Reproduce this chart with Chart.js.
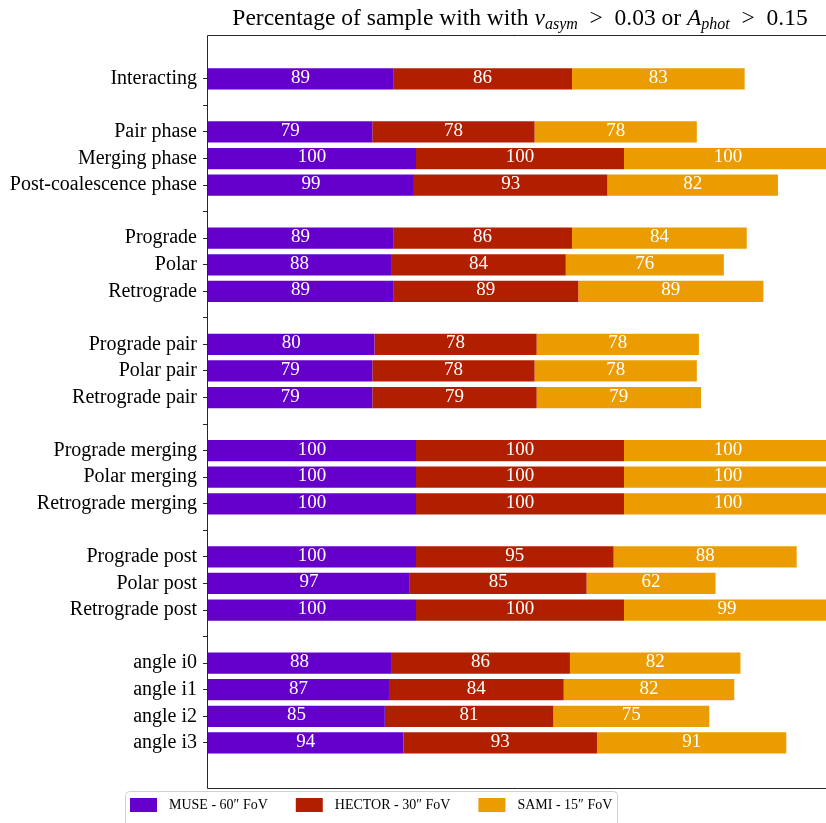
<!DOCTYPE html>
<html><head><meta charset="utf-8">
<script src="https://cdn.jsdelivr.net/npm/chart.js@4.4.0/dist/chart.umd.min.js"></script>
<style>html,body{margin:0;padding:0;background:#fff;}</style>
</head><body>
<canvas id="c" width="826" height="823"></canvas>
<script>
const categories = ['Interacting', '', 'Pair phase', 'Merging phase', 'Post-coalescence phase', '',
  'Prograde', 'Polar', 'Retrograde', '', 'Prograde pair', 'Polar pair', 'Retrograde pair', '',
  'Prograde merging', 'Polar merging', 'Retrograde merging', '', 'Prograde post', 'Polar post', 'Retrograde post', '',
  'angle i0', 'angle i1', 'angle i2', 'angle i3'];
const museValues   = [89, null, 79, 100, 99, null, 89, 88, 89, null, 80, 79, 79, null, 100, 100, 100, null, 100, 97, 100, null, 88, 87, 85, 94];
const hectorValues = [86, null, 78, 100, 93, null, 86, 84, 89, null, 78, 78, 79, null, 100, 100, 100, null, 95, 85, 100, null, 86, 84, 81, 93];
const samiValues   = [83, null, 78, 100, 82, null, 84, 76, 89, null, 78, 78, 79, null, 100, 100, 100, null, 88, 62, 99, null, 82, 82, 75, 91];
const seriesLabels = ['MUSE - 60\u2033 FoV', 'HECTOR - 30\u2033 FoV', 'SAMI - 15\u2033 FoV'];

const SERIF = "'Liberation Serif', 'DejaVu Serif', serif";
const toPoints = arr => arr.map((v, i) => v === null ? null : ({x: v, y: i})).filter(p => p !== null);

const valueLabels = {
  id: 'valueLabels',
  afterDatasetsDraw(chart) {
    const ctx = chart.ctx;
    ctx.save();
    ctx.font = '19px ' + SERIF;
    ctx.fillStyle = '#ffffff';
    ctx.textAlign = 'center';
    ctx.textBaseline = 'middle';
    chart.data.datasets.forEach((ds, i) => {
      const meta = chart.getDatasetMeta(i);
      meta.data.forEach((bar, j) => {
        const p = bar.getProps(['x', 'y', 'base'], true);
        ctx.fillText(String(Math.round(ds.data[j].x)), (p.x + p.base) / 2, p.y - 1);
      });
    });
    ctx.restore();
  }
};

const frame = {
  id: 'frame',
  afterDraw(chart) {
    const {ctx, chartArea: a} = chart;
    const l = Math.round(a.left) - 0.5, t = Math.round(a.top) + 0.5, b = Math.round(a.bottom) + 0.5;
    ctx.save();
    ctx.strokeStyle = '#262626';
    ctx.lineWidth = 1;
    ctx.beginPath();
    ctx.moveTo(chart.width + 2, t); ctx.lineTo(l, t); ctx.lineTo(l, b); ctx.lineTo(chart.width + 2, b);
    ctx.stroke();
    ctx.restore();
  }
};

const richTitle = {
  id: 'richTitle',
  afterDraw(chart) {
    const ctx = chart.ctx;
    const big = 23.5, small = 16;
    const segs = [
      {t: 'Percentage of sample with with ', f: big + 'px ' + SERIF, dy: 0},
      {t: 'v', f: 'italic ' + big + 'px ' + SERIF, dy: 0},
      {t: 'asym', f: 'italic ' + small + 'px ' + SERIF, dy: 4},
      {t: '  >  0.03 or ', f: big + 'px ' + SERIF, dy: 0},
      {t: 'A', f: 'italic ' + big + 'px ' + SERIF, dy: 0},
      {t: 'phot', f: 'italic ' + small + 'px ' + SERIF, dy: 4},
      {t: '  >  0.15', f: big + 'px ' + SERIF, dy: 0}
    ];
    ctx.save();
    let total = 0;
    segs.forEach(s => { ctx.font = s.f; s.w = ctx.measureText(s.t).width; total += s.w; });
    const center = chart.scales.x.getPixelForValue(150);
    let x = center - total / 2;
    const base = 25;
    ctx.fillStyle = '#000';
    ctx.textAlign = 'left';
    ctx.textBaseline = 'alphabetic';
    segs.forEach(s => { ctx.font = s.f; ctx.fillText(s.t, x, base + s.dy); x += s.w; });
    ctx.restore();
  }
};

const customLegend = {
  id: 'customLegend',
  afterDraw(chart) {
    const ctx = chart.ctx;
    ctx.save();
    ctx.strokeStyle = '#d0d0d0';
    ctx.lineWidth = 1;
    ctx.beginPath();
    ctx.roundRect(125.5, 791.5, 492, 45, 4);
    ctx.stroke();
    ctx.font = '14px ' + SERIF;
    ctx.textBaseline = 'middle';
    ctx.textAlign = 'left';
    let x = 130;
    chart.data.datasets.forEach(ds => {
      ctx.fillStyle = ds.backgroundColor;
      ctx.fillRect(x, 798, 27, 14);
      ctx.fillStyle = '#000';
      ctx.fillText(ds.label, x + 39, 805);
      x += 39 + ctx.measureText(ds.label).width + 28;
    });
    ctx.restore();
  }
};

new Chart(document.getElementById('c'), {
  type: 'bar',
  data: {
    datasets: [
      {label: seriesLabels[0], data: toPoints(museValues), backgroundColor: '#6500CC'},
      {label: seriesLabels[1], data: toPoints(hectorValues), backgroundColor: '#B21F00'},
      {label: seriesLabels[2], data: toPoints(samiValues), backgroundColor: '#EA9C00'}
    ]
  },
  options: {
    responsive: false,
    animation: false,
    indexAxis: 'y',
    barPercentage: 0.8,
    categoryPercentage: 1.0,
    layout: {padding: {top: 35, bottom: 35, left: 0, right: 0}},
    plugins: {legend: {display: false}, title: {display: false}, tooltip: {enabled: false}},
    scales: {
      x: {type: 'linear', stacked: true, min: 0, max: 297.1, display: false},
      y: {
        type: 'linear', stacked: true, reverse: true, min: -1.65, max: 26.7, offset: false,
        afterBuildTicks: s => { s.ticks = categories.map((c, i) => ({value: i})); },
        afterFit: s => { s.width = 208; },
        ticks: {autoSkip: false, callback: v => categories[Math.round(v)] || '', font: {family: SERIF, size: 20}, color: '#000', padding: 6},
        grid: {display: true, offset: false, drawOnChartArea: false, drawTicks: true, tickLength: 5, color: '#262626', lineWidth: 1},
        border: {display: false}
      }
    }
  },
  plugins: [valueLabels, frame, richTitle, customLegend]
});
</script>
</body></html>
